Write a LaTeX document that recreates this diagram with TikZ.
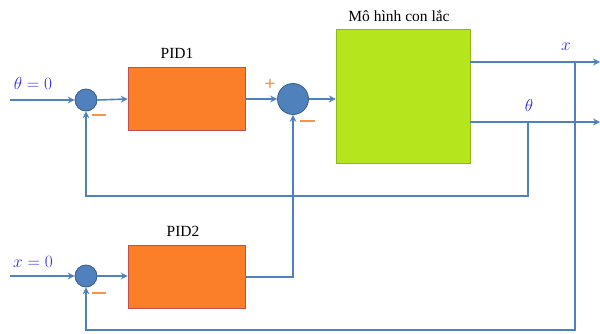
\documentclass[tikz,border=0pt]{standalone}
\usepackage{fontspec}
\setmainfont{Liberation Serif}
\usetikzlibrary{arrows.meta}
\definecolor{lineblue}{HTML}{4F81BD}
\definecolor{circborder}{HTML}{385D8A}
\definecolor{boxorange}{HTML}{FA7F28}
\definecolor{boxborder}{HTML}{C0504D}
\definecolor{boxgreen}{HTML}{B5E61D}
\definecolor{signorange}{HTML}{F79646}
\definecolor{mathblue}{HTML}{2A2AF0}
\tikzset{
  conn/.style={draw=lineblue, line width=1.6pt},
  arr/.style={conn, -{Stealth[length=7pt,width=7pt,inset=2.5pt]}},
  sumsmall/.style={circle, fill=lineblue, draw=circborder, line width=0.8pt, minimum size=22pt, inner sep=0pt},
  sumbig/.style={circle, fill=lineblue, draw=circborder, line width=0.8pt, minimum size=31pt, inner sep=0pt},
  pidbox/.style={rectangle, fill=boxorange, draw=boxborder, line width=0.6pt, minimum width=117pt, minimum height=63pt, inner sep=0pt},
  plantbox/.style={rectangle, fill=boxgreen, draw=boxgreen!80!black, line width=0.4pt, minimum width=134pt, minimum height=134pt, inner sep=0pt},
  lbl/.style={font=\fontsize{15.5}{18}\selectfont, text=black, inner sep=0pt},
  mlbl/.style={text=mathblue, font=\fontsize{18}{20}\selectfont, inner sep=0pt},
  minus/.style={draw=signorange, line width=1.6pt},
  plus/.style={text=signorange, font=\fontsize{20}{20}\selectfont\bfseries, inner sep=0pt}
}
\begin{document}
\begin{tikzpicture}[x=1pt,y=-1pt]
\useasboundingbox (0,0) rectangle (600,334);
% blocks
\node[sumsmall] (c1) at (86,100) {};
\node[sumbig] (c2) at (293,99) {};
\node[sumsmall] (c3) at (86,276) {};
\node[pidbox] (pid1) at (186.5,99) {};
\node[pidbox] (pid2) at (186.5,277) {};
\node[plantbox] (plant) at (403,96) {};
% labels
\node[lbl] (lpid1) at (177,53) {PID1};
\node[lbl] (lpid2) at (183,231) {PID2};
\node[lbl] (lplant) at (399,16) {Mô hình con lắc};
\node[mlbl] (lth0) at (33,84) {$\theta=0$};
\node[mlbl] (lx0) at (33,262) {$x=0$};
\node[mlbl] (lx) at (566,47) {$x$};
\node[mlbl] (lth) at (529,106) {$\theta$};
% signs
\node[plus] (pl) at (270,85) {+};
\draw[minus] (92,115) -- (106,115);
\draw[minus] (92,293) -- (106,293);
\draw[minus] (300,121) -- (315,121);
% coordinates
\coordinate (in1) at (10,100);
\coordinate (in2) at (10,276);
\coordinate (outx) at (600,62);
\coordinate (outth) at (600,122);
\coordinate (tapx) at (575,62);
\coordinate (tapth) at (528,122);
\coordinate (fb1) at (528,196);
\coordinate (fb2) at (575,330);
% connectors
\draw[arr] (in1) -- (c1.west);
\draw[arr] (c1.east) -- (pid1.west);
\draw[arr] (pid1.east) -- (c2.west |- pid1.east);
\draw[arr] (c2.east) -- (plant.west |- c2.east);
\draw[arr] (in2) -- (c3.west);
\draw[arr] (c3.east) -- (pid2.west |- c3.east);
\draw[arr] (pid2.east) -| (c2.south);
\draw[arr] (plant.east |- outx) -- (outx);
\draw[arr] (plant.east |- outth) -- (outth);
\draw[arr] (tapth) -- (fb1) -| (c1.south);
\draw[arr] (tapx) -- (fb2) -| (c3.south);
\end{tikzpicture}
\end{document}
